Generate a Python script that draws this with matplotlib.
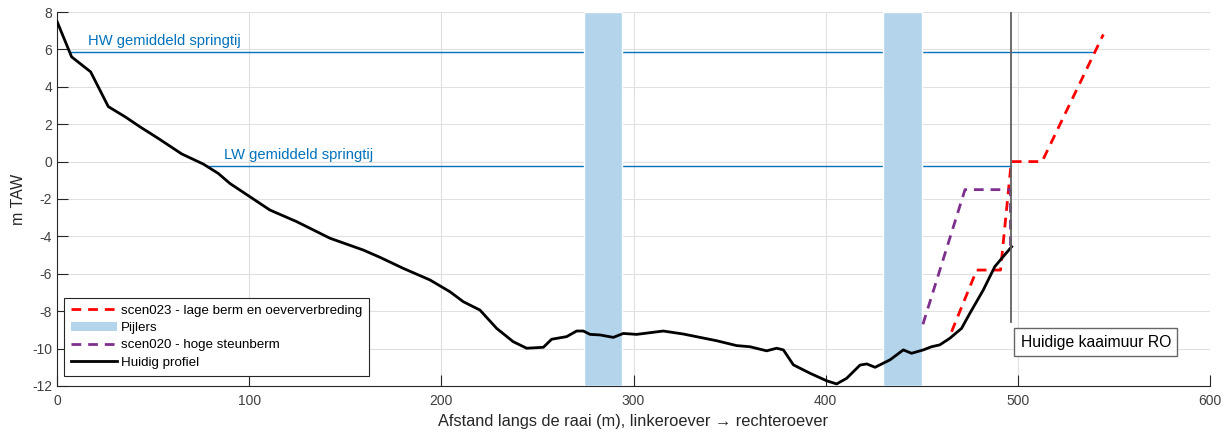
import matplotlib
matplotlib.use("Agg")
import matplotlib.pyplot as plt
from matplotlib.patches import Patch
from matplotlib.lines import Line2D

plt.rcParams['font.family'] = ['Liberation Sans', 'DejaVu Sans']
plt.rcParams['axes.unicode_minus'] = False

# ---- data ----
profile_x = [0, 7.6, 17.5, 26.7, 35.4, 43.2, 52.7, 64.9, 76.1, 83.9, 90, 100.4, 110.8,
             124.7, 142.1, 159.4, 168.1, 180.2, 194.1, 204.5, 211.4, 220.1, 228.8, 237.4,
             244.4, 253.1, 257.4, 265.2, 270.4, 273.9, 277.4, 282.6, 289.5, 294.7, 301.6,
             315.5, 325.9, 334.6, 343.3, 353.7, 360.6, 369.3, 374.5, 378, 383.2, 391.9,
             400.5, 405.7, 410.9, 417.9, 421.4, 425.7, 433.5, 440.4, 444.7, 450.8, 455.1,
             459.4, 464.6, 470.7, 475, 482, 488, 492.4, 496.8]
profile_y = [7.5, 5.6, 4.8, 2.94, 2.4, 1.86, 1.24, 0.41, -0.13, -0.63, -1.17, -1.88, -2.59,
             -3.21, -4.1, -4.73, -5.12, -5.71, -6.33, -6.96, -7.49, -7.94, -8.92, -9.63,
             -9.98, -9.93, -9.5, -9.36, -9.06, -9.06, -9.24, -9.27, -9.4, -9.19, -9.24,
             -9.06, -9.22, -9.4, -9.58, -9.84, -9.9, -10.12, -9.98, -10.07, -10.87, -11.32,
             -11.72, -11.89, -11.59, -10.88, -10.82, -11.0, -10.6, -10.07, -10.25, -10.07, -9.9,
             -9.8, -9.45, -8.92, -8.12, -6.87, -5.62, -5.08, -4.55]

scen023_x = [465.5, 478.6, 491.0, 496.6, 512.6, 544.5]
scen023_y = [-9.1, -5.8, -5.8, 0.0, 0.0, 6.8]

scen020_x = [450.6, 472.5, 496.2, 496.2]
scen020_y = [-8.7, -1.5, -1.5, -4.5]

pillars = [(274, 294), (430, 450)]

hw_level = 5.84
hw_x = [7.5, 539]
lw_level = -0.24
lw_x = [78, 496.5]

wall_x = 496.4
wall_y = [-8.6, 7.95]

xticks = [0, 100, 200, 300, 400, 500, 600]
yticks = [-12, -10, -8, -6, -4, -2, 0, 2, 4, 6, 8]

# ---- colours ----
blue = (0, 0.447, 0.741)
pillar_col = (0.70, 0.83, 0.92)
purple = (0.494, 0.184, 0.556)
tick_col = (0.15, 0.15, 0.15)

fig = plt.figure(figsize=(12.31, 4.41), dpi=100)
ax = fig.add_axes([57/1231, 55/441, 1153/1231, 374/441])

# tide lines
ax.plot(hw_x, [hw_level, hw_level], color=blue, lw=1.0, zorder=2)
ax.plot(lw_x, [lw_level, lw_level], color=blue, lw=1.0, zorder=2)
ax.text(16, 6.45, 'HW gemiddeld springtij', color=blue, fontsize=10.6, va='center', ha='left')
ax.text(87, 0.35, 'LW gemiddeld springtij', color=blue, fontsize=10.6, va='center', ha='left')

# pillars
for (a, b) in pillars:
    ax.axvspan(a, b, facecolor=pillar_col, edgecolor='white', lw=1.0, zorder=3)

# scenarios
ax.plot(scen023_x, scen023_y, color='red', lw=2.0, ls=(0, (3.5, 2.5)), zorder=5)
ax.plot(scen020_x, scen020_y, color=purple, lw=2.0, ls=(0, (3.5, 2.5)), zorder=5)

# profile
ax.plot(profile_x, profile_y, color='black', lw=2.0, zorder=6)

# wall
ax.plot([wall_x, wall_x], wall_y, color=(0.38, 0.38, 0.38), lw=1.3, zorder=7)
ax.text(501.5, -9.65, 'Huidige kaaimuur RO', fontsize=11.3, va='center', ha='left', color='black',
        bbox=dict(boxstyle='square,pad=0.4', facecolor='white', edgecolor=(0.4, 0.4, 0.4), lw=1.0),
        zorder=8)

ax.set_xlim(0, 600)
ax.set_ylim(-12, 8)
ax.set_xticks(xticks)
ax.set_yticks(yticks)
ax.grid(True, color=(0.88, 0.88, 0.88), lw=0.8)
ax.set_axisbelow(True)
for s in ['top', 'right']:
    ax.spines[s].set_visible(False)
for s in ['left', 'bottom']:
    ax.spines[s].set_color(tick_col)
    ax.spines[s].set_linewidth(0.8)
ax.tick_params(direction='in', length=8, width=0.8, colors=tick_col, labelsize=10,
               labelcolor=(0.25, 0.25, 0.25))
ax.tick_params(axis='x', pad=6)
ax.set_xlabel('Afstand langs de raai (m), linkeroever → rechteroever', fontsize=11.8,
              color=(0.15, 0.15, 0.15))
ax.set_ylabel('m TAW', fontsize=11.5, color=(0.15, 0.15, 0.15))

handles = [
    Line2D([], [], color='red', lw=2.0, ls=(0, (3.5, 2.5))),
    Patch(facecolor=pillar_col, edgecolor='none'),
    Line2D([], [], color=purple, lw=2.0, ls=(0, (3.5, 2.5))),
    Line2D([], [], color='black', lw=2.0),
]
labels = ['scen023 - lage berm en oeververbreding', 'Pijlers', 'scen020 - hoge steunberm',
          'Huidig profiel']
leg = ax.legend(handles, labels, loc='lower left', bbox_to_anchor=(0.006, 0.028), fontsize=9.6,
                frameon=True, fancybox=False, edgecolor=(0.15, 0.15, 0.15), framealpha=1,
                handlelength=3.5, handletextpad=0.3, labelspacing=0.38, borderpad=0.5,
                borderaxespad=0)
leg.get_frame().set_linewidth(0.8)
leg.set_zorder(10)

fig.savefig('out.png', dpi=100)
